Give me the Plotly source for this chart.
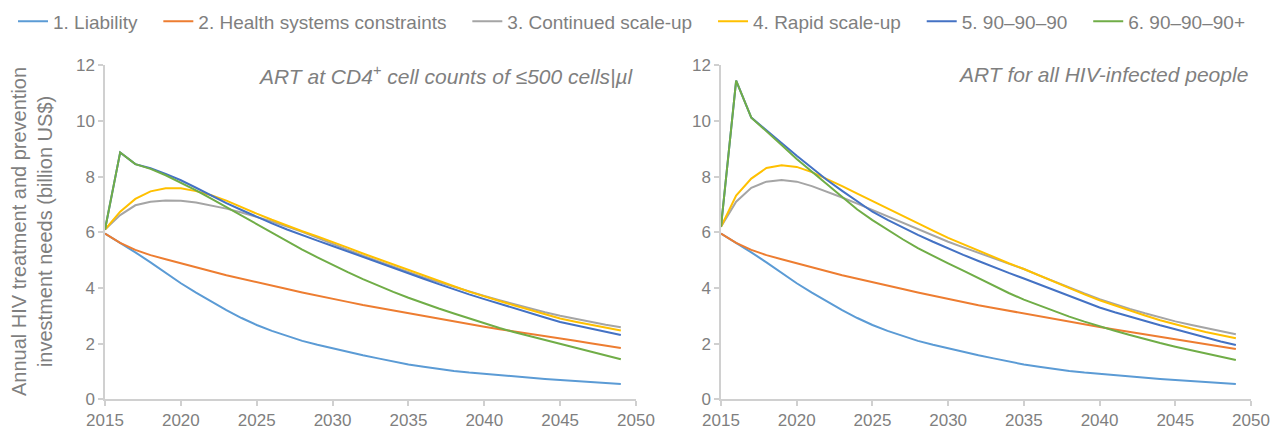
import plotly.graph_objects as go

years = list(range(2015, 2050))
series_names = ["1. Liability", "2. Health systems constraints", "3. Continued scale-up",
                "4. Rapid scale-up", "5. 90\u201390\u201390", "6. 90\u201390\u201390+"]
series_colors = ["#5B9BD5", "#ED7D31", "#A5A5A5", "#FFC000", "#4472C4", "#70AD47"]

# Left panel: ART at CD4+ <= 500
left_liability = [5.95, 5.62, 5.28, 4.92, 4.54, 4.17, 3.83, 3.50, 3.20, 2.92,
                  2.67, 2.46, 2.27, 2.10, 1.96, 1.83, 1.70, 1.58, 1.47, 1.36,
                  1.25, 1.17, 1.09, 1.02, 0.96, 0.91, 0.86, 0.81, 0.77, 0.73,
                  0.69, 0.66, 0.62, 0.58, 0.55]
left_health = [5.95, 5.62, 5.37, 5.18, 5.03, 4.88, 4.74, 4.60, 4.46, 4.33,
               4.20, 4.08, 3.96, 3.84, 3.72, 3.60, 3.50, 3.39, 3.29, 3.19,
               3.09, 2.99, 2.89, 2.80, 2.70, 2.61, 2.52, 2.44, 2.35, 2.27,
               2.19, 2.10, 2.01, 1.93, 1.84]
left_continued = [6.10, 6.62, 6.97, 7.10, 7.14, 7.13, 7.07, 6.97, 6.85, 6.71,
                  6.56, 6.39, 6.21, 6.02, 5.80, 5.58, 5.37, 5.16, 4.96, 4.76,
                  4.56, 4.38, 4.21, 4.04, 3.87, 3.71, 3.56, 3.41, 3.27, 3.13,
                  3.00, 2.89, 2.78, 2.68, 2.59]
left_rapid = [6.10, 6.74, 7.20, 7.47, 7.58, 7.58, 7.48, 7.33, 7.14, 6.90,
              6.67, 6.45, 6.24, 6.04, 5.85, 5.66, 5.45, 5.24, 5.04, 4.84,
              4.65, 4.45, 4.26, 4.06, 3.87, 3.69, 3.53, 3.37, 3.21, 3.05,
              2.90, 2.79, 2.68, 2.57, 2.47]
left_909090 = [6.10, 8.87, 8.45, 8.30, 8.10, 7.87, 7.60, 7.32, 7.05, 6.80,
               6.55, 6.32, 6.10, 5.89, 5.70, 5.51, 5.31, 5.11, 4.91, 4.71,
               4.52, 4.33, 4.14, 3.95, 3.77, 3.60, 3.43, 3.26, 3.10, 2.94,
               2.78, 2.66, 2.54, 2.42, 2.31]
left_909090plus = [6.10, 8.87, 8.45, 8.28, 8.05, 7.79, 7.51, 7.21, 6.90, 6.59,
                   6.28, 5.98, 5.68, 5.38, 5.10, 4.83, 4.57, 4.32, 4.08, 3.86,
                   3.65, 3.45, 3.26, 3.08, 2.91, 2.72, 2.56, 2.41, 2.27, 2.13,
                   1.99, 1.85, 1.71, 1.57, 1.44]

# Right panel: ART for all HIV-infected people
right_liability = [5.95, 5.62, 5.28, 4.92, 4.54, 4.17, 3.83, 3.50, 3.20, 2.92,
                   2.67, 2.46, 2.27, 2.10, 1.96, 1.83, 1.70, 1.58, 1.47, 1.36,
                   1.25, 1.17, 1.09, 1.02, 0.96, 0.91, 0.86, 0.81, 0.77, 0.73,
                   0.69, 0.66, 0.62, 0.58, 0.55]
right_health = [5.95, 5.62, 5.37, 5.18, 5.03, 4.88, 4.74, 4.60, 4.46, 4.33,
                4.20, 4.08, 3.96, 3.84, 3.72, 3.60, 3.49, 3.38, 3.28, 3.18,
                3.08, 2.98, 2.88, 2.78, 2.69, 2.60, 2.51, 2.42, 2.33, 2.25,
                2.17, 2.08, 1.99, 1.90, 1.81]
right_continued = [6.20, 7.10, 7.60, 7.82, 7.88, 7.82, 7.66, 7.46, 7.25, 7.03,
                   6.80, 6.57, 6.34, 6.11, 5.88, 5.66, 5.46, 5.26, 5.06, 4.87,
                   4.68, 4.45, 4.23, 4.01, 3.80, 3.60, 3.42, 3.25, 3.09, 2.94,
                   2.80, 2.68, 2.56, 2.45, 2.34]
right_rapid = [6.20, 7.32, 7.93, 8.31, 8.41, 8.35, 8.16, 7.92, 7.66, 7.39,
               7.12, 6.85, 6.59, 6.33, 6.06, 5.80, 5.57, 5.34, 5.11, 4.89,
               4.68, 4.45, 4.22, 3.99, 3.77, 3.56, 3.37, 3.19, 3.01, 2.84,
               2.69, 2.55, 2.42, 2.30, 2.19]
right_909090 = [6.20, 11.45, 10.12, 9.68, 9.21, 8.75, 8.30, 7.88, 7.49, 7.10,
                6.74, 6.45, 6.17, 5.91, 5.66, 5.42, 5.19, 4.97, 4.75, 4.54,
                4.34, 4.13, 3.91, 3.70, 3.50, 3.30, 3.13, 2.97, 2.81, 2.66,
                2.52, 2.37, 2.22, 2.08, 1.95]
right_909090plus = [6.20, 11.45, 10.12, 9.64, 9.14, 8.63, 8.18, 7.70, 7.26, 6.82,
                    6.44, 6.08, 5.75, 5.43, 5.14, 4.88, 4.62, 4.35, 4.08, 3.82,
                    3.58, 3.37, 3.17, 2.97, 2.79, 2.62, 2.46, 2.31, 2.16, 2.02,
                    1.89, 1.77, 1.65, 1.53, 1.41]

left_series = [left_liability, left_health, left_continued, left_rapid, left_909090, left_909090plus]
right_series = [right_liability, right_health, right_continued, right_rapid, right_909090, right_909090plus]

x_ticks = [2015, 2020, 2025, 2030, 2035, 2040, 2045, 2050]
y_ticks = [0, 2, 4, 6, 8, 10, 12]

panel_titles = ["<i>ART at CD4<sup>+</sup> cell counts of \u2264500 cells|\u00b5l</i>",
                "<i>ART for all HIV-infected people</i>"]
y_title = "Annual HIV treatment and prevention<br>investment needs (billion US$)"

GRAY = "#7f7f7f"
AXIS = "#d0d0d0"
FONT = "Liberation Sans, Arial, sans-serif"
PAD = "\u00a0\u00a0\u00a0"

fig = go.Figure()
for i in range(6):
    legend_name = series_names[i] + (PAD if i < 5 else "")
    fig.add_trace(go.Scatter(x=years, y=left_series[i], mode="lines", name=legend_name,
                             line=dict(color=series_colors[i], width=2), legendgroup=str(i),
                             xaxis="x", yaxis="y"))
for i in range(6):
    fig.add_trace(go.Scatter(x=years, y=right_series[i], mode="lines", name=series_names[i],
                             line=dict(color=series_colors[i], width=2), legendgroup=str(i),
                             showlegend=False, xaxis="x2", yaxis="y2"))

axis_common = dict(showline=True, linecolor=AXIS, linewidth=1.5, ticks="outside",
                   ticklen=5, tickcolor=AXIS, tickwidth=1.5, showgrid=False, zeroline=False,
                   tickfont=dict(family=FONT, size=17, color=GRAY))

W, H = 1270, 429
fig.update_layout(
    width=W, height=H,
    margin=dict(l=0, r=0, t=0, b=0),
    paper_bgcolor="white", plot_bgcolor="white",
    font=dict(family=FONT, color=GRAY),
    xaxis=dict(domain=[105 / W, 636 / W], range=[2015, 2050], tickvals=x_ticks,
               anchor="y", automargin=False, **axis_common),
    yaxis=dict(domain=[(H - 399.3) / H, (H - 65.3) / H], range=[0, 12], tickvals=y_ticks,
               anchor="x", automargin=False, **axis_common),
    xaxis2=dict(domain=[721 / W, 1251 / W], range=[2015, 2050], tickvals=x_ticks,
                anchor="y2", automargin=False, **axis_common),
    yaxis2=dict(domain=[(H - 399.3) / H, (H - 65.3) / H], range=[0, 12], tickvals=y_ticks,
                anchor="x2", automargin=False, **axis_common),
    showlegend=True,
    legend=dict(orientation="h", x=13 / W, y=1 - 2.5 / H, xanchor="left", yanchor="top",
                font=dict(family=FONT, size=19, color=GRAY), bgcolor="rgba(0,0,0,0)",
                traceorder="normal"),
)

fig.add_annotation(text=panel_titles[0], xref="paper", yref="paper", x=636 / W, y=(H - 75) / H,
                   xanchor="right", yanchor="middle", showarrow=False,
                   font=dict(family=FONT, size=21, color=GRAY))
fig.add_annotation(text=panel_titles[1], xref="paper", yref="paper", x=1250 / W, y=(H - 75) / H,
                   xanchor="right", yanchor="middle", showarrow=False,
                   font=dict(family=FONT, size=21, color=GRAY))
fig.add_annotation(text=y_title, xref="paper", yref="paper", x=32 / W, y=(H - 232) / H,
                   xanchor="center", yanchor="middle", showarrow=False, textangle=-90,
                   font=dict(family=FONT, size=20, color=GRAY))

fig.write_html("out.html", config={"displayModeBar": False},
               post_script="document.body.style.margin='0';")
